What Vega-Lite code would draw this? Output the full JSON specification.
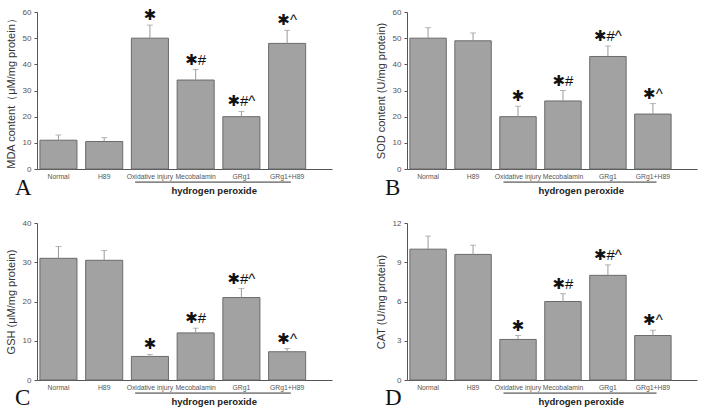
{
  "$schema": "https://vega.github.io/schema/vega-lite/v6.json",
  "background": "white",
  "padding": {"left": 5, "top": 8, "right": 5, "bottom": 2},
  "datasets": {
    "A": [
      {"group": "Normal", "value": 11, "upper": 13, "sig": ""},
      {"group": "H89", "value": 10.5, "upper": 12, "sig": ""},
      {"group": "Oxidative injury", "value": 50, "upper": 55, "sig": "✱"},
      {"group": "Mecobalamin", "value": 34, "upper": 38, "sig": "✱#"},
      {"group": "GRg1", "value": 20, "upper": 22, "sig": "✱#^"},
      {"group": "GRg1+H89", "value": 48, "upper": 53, "sig": "✱^"}
    ],
    "B": [
      {"group": "Normal", "value": 50, "upper": 54, "sig": ""},
      {"group": "H89", "value": 49, "upper": 52, "sig": ""},
      {"group": "Oxidative injury", "value": 20, "upper": 24, "sig": "✱"},
      {"group": "Mecobalamin", "value": 26, "upper": 30, "sig": "✱#"},
      {"group": "GRg1", "value": 43, "upper": 47, "sig": "✱#^"},
      {"group": "GRg1+H89", "value": 21, "upper": 25, "sig": "✱^"}
    ],
    "C": [
      {"group": "Normal", "value": 31, "upper": 34, "sig": ""},
      {"group": "H89", "value": 30.5, "upper": 33, "sig": ""},
      {"group": "Oxidative injury", "value": 6, "upper": 6.5, "sig": "✱"},
      {"group": "Mecobalamin", "value": 12, "upper": 13.2, "sig": "✱#"},
      {"group": "GRg1", "value": 21, "upper": 23.3, "sig": "✱#^"},
      {"group": "GRg1+H89", "value": 7.2, "upper": 8, "sig": "✱^"}
    ],
    "D": [
      {"group": "Normal", "value": 10, "upper": 11, "sig": ""},
      {"group": "H89", "value": 9.6, "upper": 10.3, "sig": ""},
      {"group": "Oxidative injury", "value": 3.1, "upper": 3.4, "sig": "✱"},
      {"group": "Mecobalamin", "value": 6, "upper": 6.6, "sig": "✱#"},
      {"group": "GRg1", "value": 8, "upper": 8.8, "sig": "✱#^"},
      {"group": "GRg1+H89", "value": 3.4, "upper": 3.8, "sig": "✱^"}
    ],
    "span": [{"from": "Oxidative injury", "to": "GRg1+H89", "mid": "Mecobalamin", "label": "hydrogen peroxide"}]
  },
  "config": {
    "view": {"stroke": null},
    "font": "Liberation Sans",
    "axis": {"grid": false, "domainColor": "#555", "tickColor": "#555", "labelColor": "#555", "labelFont": "Liberation Sans", "titleFont": "Liberation Sans", "titleFontWeight": "normal", "titleColor": "#333"},
    "axisX": {"ticks": false, "labelAngle": 0, "labelFontSize": 6.8, "labelPadding": 4, "title": null},
    "axisY": {"tickSize": 3, "labelFontSize": 8, "labelPadding": 3, "titleFontSize": 11, "titlePadding": 6},
    "title": {"font": "Liberation Serif", "fontSize": 23, "fontWeight": "normal", "color": "#111", "orient": "bottom", "anchor": "start", "frame": "bounds", "offset": -19, "dx": 10}
  },
  "spacing": 19,
  "vconcat": [
    {
      "spacing": 43,
      "hconcat": [
        {
          "title": "A",
          "width": 295, "height": 157,
          "layer": [
            {
              "data": {"name": "A"},
              "encoding": {
                "x": {"field": "group", "type": "nominal", "scale": {"domain": ["Normal", "H89", "Oxidative injury", "Mecobalamin", "GRg1", "GRg1+H89"], "paddingInner": 0.19, "paddingOuter": 0.32, "align": 0.1}},
                "y": {"field": "value", "type": "quantitative", "scale": {"domain": [0, 60]}, "axis": {"values": [0, 10, 20, 30, 40, 50, 60]}, "title": "MDA content（μM/mg protein）"}
              },
              "layer": [
                {"mark": {"type": "bar", "fill": "#a2a2a2", "stroke": "#6a6a6a", "strokeWidth": 1}},
                {"mark": {"type": "rule", "color": "#999", "strokeWidth": 1}, "encoding": {"y2": {"field": "upper"}}},
                {"mark": {"type": "tick", "color": "#999", "thickness": 1, "size": 6}, "encoding": {"y": {"field": "upper", "type": "quantitative"}}},
                {"mark": {"type": "text", "fontSize": 15, "font": "Liberation Sans, DejaVu Sans", "baseline": "bottom", "dy": -2, "color": "#111"},
                 "encoding": {"y": {"field": "upper", "type": "quantitative"}, "text": {"field": "sig"}}}
              ]
            },
            {
              "data": {"name": "span"},
              "layer": [
                {"mark": {"type": "rule", "color": "#333", "strokeWidth": 1, "clip": false},
                 "encoding": {"x": {"field": "from", "type": "nominal", "bandPosition": 0.1}, "x2": {"field": "to", "bandPosition": 0.6}, "y": {"datum": -5, "type": "quantitative", "axis": {"values": [0, 10, 20, 30, 40, 50, 60]}, "title": "MDA content（μM/mg protein）"}}},
                {"mark": {"type": "text", "fontSize": 9.5, "fontWeight": "bold", "color": "#222", "baseline": "middle"},
                 "encoding": {"x": {"field": "mid", "type": "nominal", "bandPosition": 1}, "y": {"datum": -8.5, "type": "quantitative", "axis": {"values": [0, 10, 20, 30, 40, 50, 60]}, "title": "MDA content（μM/mg protein）"}, "text": {"field": "label"}}}
              ]
            }
          ]
        },
        {
          "title": "B",
          "width": 290, "height": 157,
          "layer": [
            {
              "data": {"name": "B"},
              "encoding": {
                "x": {"field": "group", "type": "nominal", "scale": {"domain": ["Normal", "H89", "Oxidative injury", "Mecobalamin", "GRg1", "GRg1+H89"], "paddingInner": 0.19, "paddingOuter": 0.32, "align": 0.1}},
                "y": {"field": "value", "type": "quantitative", "scale": {"domain": [0, 60]}, "axis": {"values": [0, 10, 20, 30, 40, 50, 60]}, "title": "SOD content (U/mg protein)"}
              },
              "layer": [
                {"mark": {"type": "bar", "fill": "#a2a2a2", "stroke": "#6a6a6a", "strokeWidth": 1}},
                {"mark": {"type": "rule", "color": "#999", "strokeWidth": 1}, "encoding": {"y2": {"field": "upper"}}},
                {"mark": {"type": "tick", "color": "#999", "thickness": 1, "size": 6}, "encoding": {"y": {"field": "upper", "type": "quantitative"}}},
                {"mark": {"type": "text", "fontSize": 15, "font": "Liberation Sans, DejaVu Sans", "baseline": "bottom", "dy": -2, "color": "#111"},
                 "encoding": {"y": {"field": "upper", "type": "quantitative"}, "text": {"field": "sig"}}}
              ]
            },
            {
              "data": {"name": "span"},
              "layer": [
                {"mark": {"type": "rule", "color": "#333", "strokeWidth": 1, "clip": false},
                 "encoding": {"x": {"field": "from", "type": "nominal", "bandPosition": 0.1}, "x2": {"field": "to", "bandPosition": 0.6}, "y": {"datum": -5, "type": "quantitative", "axis": {"values": [0, 10, 20, 30, 40, 50, 60]}, "title": "SOD content (U/mg protein)"}}},
                {"mark": {"type": "text", "fontSize": 9.5, "fontWeight": "bold", "color": "#222", "baseline": "middle"},
                 "encoding": {"x": {"field": "mid", "type": "nominal", "bandPosition": 1}, "y": {"datum": -8.5, "type": "quantitative", "axis": {"values": [0, 10, 20, 30, 40, 50, 60]}, "title": "SOD content (U/mg protein)"}, "text": {"field": "label"}}}
              ]
            }
          ]
        }
      ]
    },
    {
      "spacing": 43,
      "hconcat": [
        {
          "title": "C",
          "width": 295, "height": 157,
          "layer": [
            {
              "data": {"name": "C"},
              "encoding": {
                "x": {"field": "group", "type": "nominal", "scale": {"domain": ["Normal", "H89", "Oxidative injury", "Mecobalamin", "GRg1", "GRg1+H89"], "paddingInner": 0.19, "paddingOuter": 0.32, "align": 0.1}},
                "y": {"field": "value", "type": "quantitative", "scale": {"domain": [0, 40]}, "axis": {"values": [0, 10, 20, 30, 40]}, "title": "GSH (μM/mg protein)"}
              },
              "layer": [
                {"mark": {"type": "bar", "fill": "#a2a2a2", "stroke": "#6a6a6a", "strokeWidth": 1}},
                {"mark": {"type": "rule", "color": "#999", "strokeWidth": 1}, "encoding": {"y2": {"field": "upper"}}},
                {"mark": {"type": "tick", "color": "#999", "thickness": 1, "size": 6}, "encoding": {"y": {"field": "upper", "type": "quantitative"}}},
                {"mark": {"type": "text", "fontSize": 15, "font": "Liberation Sans, DejaVu Sans", "baseline": "bottom", "dy": -2, "color": "#111"},
                 "encoding": {"y": {"field": "upper", "type": "quantitative"}, "text": {"field": "sig"}}}
              ]
            },
            {
              "data": {"name": "span"},
              "layer": [
                {"mark": {"type": "rule", "color": "#333", "strokeWidth": 1, "clip": false},
                 "encoding": {"x": {"field": "from", "type": "nominal", "bandPosition": 0.1}, "x2": {"field": "to", "bandPosition": 0.6}, "y": {"datum": -3.33, "type": "quantitative", "axis": {"values": [0, 10, 20, 30, 40]}, "title": "GSH (μM/mg protein)"}}},
                {"mark": {"type": "text", "fontSize": 9.5, "fontWeight": "bold", "color": "#222", "baseline": "middle"},
                 "encoding": {"x": {"field": "mid", "type": "nominal", "bandPosition": 1}, "y": {"datum": -5.5, "type": "quantitative", "axis": {"values": [0, 10, 20, 30, 40]}, "title": "GSH (μM/mg protein)"}, "text": {"field": "label"}}}
              ]
            }
          ]
        },
        {
          "title": "D",
          "width": 290, "height": 157,
          "layer": [
            {
              "data": {"name": "D"},
              "encoding": {
                "x": {"field": "group", "type": "nominal", "scale": {"domain": ["Normal", "H89", "Oxidative injury", "Mecobalamin", "GRg1", "GRg1+H89"], "paddingInner": 0.19, "paddingOuter": 0.32, "align": 0.1}},
                "y": {"field": "value", "type": "quantitative", "scale": {"domain": [0, 12]}, "axis": {"values": [0, 3, 6, 9, 12]}, "title": "CAT (U/mg protein)"}
              },
              "layer": [
                {"mark": {"type": "bar", "fill": "#a2a2a2", "stroke": "#6a6a6a", "strokeWidth": 1}},
                {"mark": {"type": "rule", "color": "#999", "strokeWidth": 1}, "encoding": {"y2": {"field": "upper"}}},
                {"mark": {"type": "tick", "color": "#999", "thickness": 1, "size": 6}, "encoding": {"y": {"field": "upper", "type": "quantitative"}}},
                {"mark": {"type": "text", "fontSize": 15, "font": "Liberation Sans, DejaVu Sans", "baseline": "bottom", "dy": -2, "color": "#111"},
                 "encoding": {"y": {"field": "upper", "type": "quantitative"}, "text": {"field": "sig"}}}
              ]
            },
            {
              "data": {"name": "span"},
              "layer": [
                {"mark": {"type": "rule", "color": "#333", "strokeWidth": 1, "clip": false},
                 "encoding": {"x": {"field": "from", "type": "nominal", "bandPosition": 0.1}, "x2": {"field": "to", "bandPosition": 0.6}, "y": {"datum": -1, "type": "quantitative", "axis": {"values": [0, 3, 6, 9, 12]}, "title": "CAT (U/mg protein)"}}},
                {"mark": {"type": "text", "fontSize": 9.5, "fontWeight": "bold", "color": "#222", "baseline": "middle"},
                 "encoding": {"x": {"field": "mid", "type": "nominal", "bandPosition": 1}, "y": {"datum": -1.65, "type": "quantitative", "axis": {"values": [0, 3, 6, 9, 12]}, "title": "CAT (U/mg protein)"}, "text": {"field": "label"}}}
              ]
            }
          ]
        }
      ]
    }
  ]
}
